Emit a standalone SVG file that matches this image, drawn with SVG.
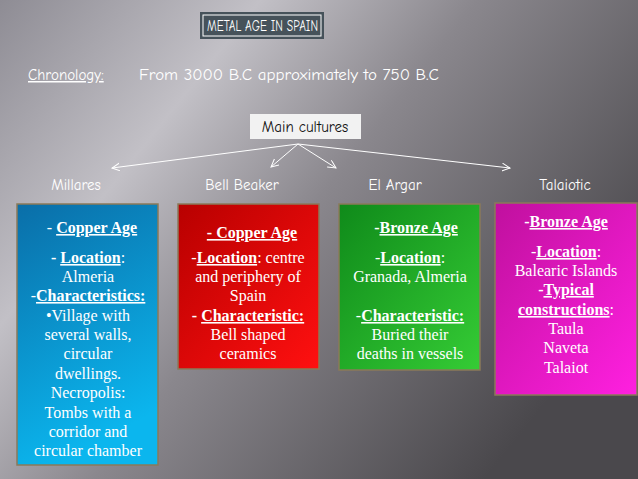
<svg xmlns="http://www.w3.org/2000/svg" width="638" height="479" viewBox="0 0 638 479">
<defs>
<linearGradient id="bg" x1="0" y1="0" x2="1" y2="0.6"><stop offset="0" stop-color="#8e8c94"/><stop offset="0.3" stop-color="#c2c0c6"/><stop offset="0.55" stop-color="#8a878d"/><stop offset="1" stop-color="#4a484c"/></linearGradient>
<linearGradient id="gb" x1="0" y1="0" x2="0.3" y2="1"><stop offset="0" stop-color="#0a6ea8"/><stop offset="1" stop-color="#0bb6ee"/></linearGradient>
<linearGradient id="gr" x1="0" y1="0" x2="1" y2="1"><stop offset="0" stop-color="#b80000"/><stop offset="1" stop-color="#ff1010"/></linearGradient>
<linearGradient id="gg" x1="0" y1="0" x2="1" y2="1"><stop offset="0" stop-color="#0f8a1a"/><stop offset="1" stop-color="#35cc35"/></linearGradient>
<linearGradient id="gm" x1="0" y1="0" x2="1" y2="1"><stop offset="0" stop-color="#c0109e"/><stop offset="1" stop-color="#ff20e0"/></linearGradient>
<marker id="ah" markerWidth="10" markerHeight="10" refX="8" refY="4" orient="auto" markerUnits="userSpaceOnUse"><path d="M0,0 L8,4 L0,8" fill="none" stroke="#fff" stroke-width="1"/></marker>
<style>
.h{font-family:"Comic Neue","DejaVu Sans",sans-serif;font-size:15px;fill:#fff}
.b{font-family:"Liberation Serif",serif;font-size:16px;fill:#fff;text-anchor:middle}
.u{font-weight:bold;text-decoration:underline}
.box{stroke:#8a7a5a;stroke-width:1.5}
</style>
</defs>
<rect width="638" height="479" fill="url(#bg)"/>
<g id="title"><rect x="200" y="12" width="124" height="27" fill="#46525a"/><rect x="203" y="15" width="118" height="21" fill="none" stroke="#fff"/><text class="h" x="207" y="31" font-size="15" textLength="111" lengthAdjust="spacingAndGlyphs">METAL AGE IN SPAIN</text></g>
<g id="chronology"><text class="h" x="28" y="80" text-decoration="underline">Chronology:</text><text class="h" x="139" y="80" font-size="16" textLength="300" lengthAdjust="spacingAndGlyphs">From 3000 B.C approximately to 750  B.C</text></g>
<g id="main"><rect x="250" y="114" width="111" height="25" fill="#f2f2f2"/><text class="h" x="305" y="132" text-anchor="middle" style="fill:#111">Main cultures</text></g>
<g id="connectors" stroke="#fff" stroke-width="1" fill="none" marker-end="url(#ah)">
<line x1="298" y1="144" x2="112" y2="168"/><line x1="298" y1="144" x2="271" y2="167"/><line x1="298" y1="144" x2="336" y2="168"/><line x1="298" y1="144" x2="510" y2="168"/>
</g>
<g id="labels"><text class="h" x="76" y="190" text-anchor="middle">Millares</text><text class="h" x="242" y="190" text-anchor="middle">Bell Beaker</text><text class="h" x="395" y="190" text-anchor="middle">El Argar</text><text class="h" x="565" y="190" text-anchor="middle">Talaiotic</text></g>
<g id="millares"><rect class="box" x="17" y="204" width="141" height="261" fill="url(#gb)"/>
<text class="b" x="92" y="233">- <tspan class="u">Copper Age</tspan></text>
<text class="b" x="88" y="263"><tspan font-weight="bold">- </tspan><tspan class="u">Location</tspan>:</text>
<text class="b" x="88" y="282">Almeria</text>
<text class="b" x="88" y="301">-<tspan class="u">Characteristics:</tspan></text>
<text class="b" x="88" y="321">•Village with</text><text class="b" x="88" y="340">several walls,</text><text class="b" x="88" y="359">circular</text><text class="b" x="88" y="379">dwellings.</text><text class="b" x="88" y="398">Necropolis:</text><text class="b" x="88" y="418">Tombs with a</text><text class="b" x="88" y="437">corridor and</text><text class="b" x="88" y="456">circular chamber</text></g>
<g id="bellbeaker"><rect class="box" x="178" y="204" width="141" height="165" fill="url(#gr)"/>
<text class="b" x="252" y="238"><tspan class="u">- Copper Age</tspan></text>
<text class="b" x="248" y="263">-<tspan class="u">Location</tspan>: centre</text>
<text class="b" x="248" y="282">and periphery of</text><text class="b" x="248" y="301">Spain</text>
<text class="b" x="248" y="321"><tspan font-weight="bold">- </tspan><tspan class="u">Characteristic:</tspan></text>
<text class="b" x="248" y="340">Bell shaped</text><text class="b" x="248" y="359">ceramics</text></g>
<g id="elargar"><rect class="box" x="339" y="204" width="141" height="166" fill="url(#gg)"/>
<text class="b" x="416" y="233"><tspan font-weight="bold">-</tspan><tspan class="u">Bronze Age</tspan></text>
<text class="b" x="410" y="263">-<tspan class="u">Location</tspan>:</text>
<text class="b" x="410" y="282">Granada, Almeria</text>
<text class="b" x="410" y="321">-<tspan class="u">Characteristic:</tspan></text>
<text class="b" x="410" y="340">Buried their</text><text class="b" x="410" y="359">deaths in vessels</text></g>
<g id="talaiotic"><rect class="box" x="495" y="203" width="142" height="192" fill="url(#gm)"/>
<text class="b" x="566" y="227"><tspan font-weight="bold">-</tspan><tspan class="u">Bronze Age</tspan></text>
<text class="b" x="566" y="257">-<tspan class="u">Location</tspan>:</text>
<text class="b" x="566" y="276">Balearic Islands</text>
<text class="b" x="566" y="295"><tspan font-weight="bold">-</tspan><tspan class="u">Typical</tspan></text>
<text class="b" x="566" y="315"><tspan class="u">constructions</tspan>:</text>
<text class="b" x="566" y="334">Taula</text><text class="b" x="566" y="353">Naveta</text><text class="b" x="566" y="373">Talaiot</text></g>
</svg>
